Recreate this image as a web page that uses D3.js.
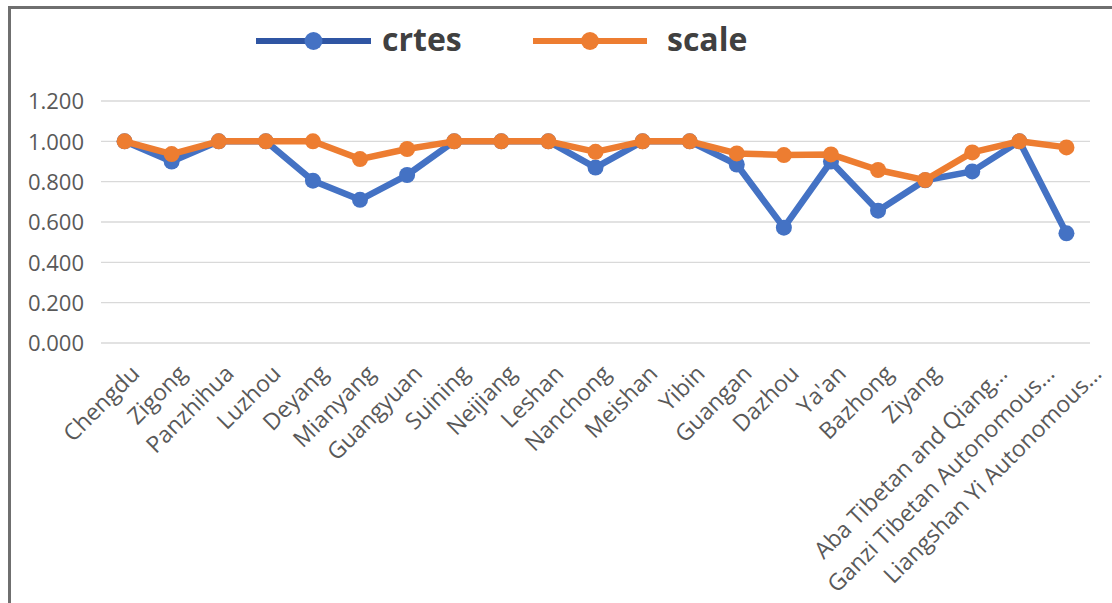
<!DOCTYPE html>
<html>
<head>
<meta charset="utf-8">
<script src="https://cdn.jsdelivr.net/npm/d3@7"></script>
<style>
  html, body { margin: 0; padding: 0; background: #fff; }
  svg { display: block; }
</style>
</head>
<body>
<svg id="chart" width="1112" height="603"></svg>
<script>
const categories = ["Chengdu","Zigong","Panzhihua","Luzhou","Deyang","Mianyang","Guangyuan","Suining","Neijiang","Leshan","Nanchong","Meishan","Yibin","Guangan","Dazhou","Ya'an","Bazhong","Ziyang","Aba Tibetan and Qiang…","Ganzi Tibetan Autonomous…","Liangshan Yi Autonomous…"];
const crtes = [1.000,0.900,1.000,1.000,0.805,0.710,0.833,1.000,1.000,1.000,0.870,1.000,1.000,0.885,0.572,0.900,0.656,0.807,0.851,1.000,0.544];
const scale = [1.000,0.937,1.000,1.000,1.000,0.912,0.962,1.000,1.000,1.000,0.948,1.000,1.000,0.940,0.932,0.935,0.858,0.808,0.945,1.000,0.970];
const yTicks = [0, 0.2, 0.4, 0.6, 0.8, 1.0, 1.2];
const seriesNames = ["crtes", "scale"];

const svg = d3.select("#chart");
const W = 1112, H = 603;
const blue = "#4472C4", blueDark = "#2F55A3", orange = "#ED7D31";

// frame
svg.append("rect").attr("x", 0).attr("y", 0).attr("width", W).attr("height", H).attr("fill", "#fff");
svg.append("line").attr("x1", 8).attr("x2", W).attr("y1", 7.5).attr("y2", 7.5)
  .attr("stroke", "#6f6f6f").attr("stroke-width", 3);
svg.append("line").attr("x1", 9.5).attr("x2", 9.5).attr("y1", 6).attr("y2", H)
  .attr("stroke", "#6f6f6f").attr("stroke-width", 3);

const x = d3.scalePoint().domain(categories).range([101, 1090]).padding(0.5);
const y = d3.scaleLinear().domain([0, 1.2]).range([343, 101]);

// gridlines
svg.append("g").selectAll("line").data(yTicks).join("line")
  .attr("x1", 101).attr("x2", 1090)
  .attr("y1", d => y(d)).attr("y2", d => y(d))
  .attr("stroke", "#d9d9d9").attr("stroke-width", 1.3);

// y axis labels
const yAxis = d3.axisLeft(y).tickValues(yTicks).tickFormat(d3.format(".3f")).tickSize(0).tickPadding(0);
const yg = svg.append("g").attr("transform", "translate(84,0)").call(yAxis);
yg.select(".domain").remove();
yg.selectAll("text").attr("font-family", "'Open Sans', sans-serif").attr("font-size", 22)
  .attr("fill", "#595959").attr("dy", "0.35em");

// x axis labels
const xAxis = d3.axisBottom(x).tickSize(0).tickPadding(0);
const xg = svg.append("g").attr("transform", "translate(0,343)").call(xAxis);
xg.select(".domain").remove();
xg.selectAll("text")
  .attr("font-family", "'Open Sans', sans-serif").attr("font-size", 23).attr("fill", "#595959")
  .attr("text-anchor", "end").attr("dy", null).attr("y", 0)
  .attr("transform", d => `translate(${d.endsWith("…") ? 36 : 16},32) rotate(-45)`);

// lines
const line = d3.line().x((d, i) => x(categories[i])).y(d => y(d));
function drawSeries(vals, color) {
  svg.append("path").datum(vals).attr("d", line).attr("fill", "none")
    .attr("stroke", color).attr("stroke-width", 6.5).attr("stroke-linejoin", "round");
  svg.append("g").selectAll("circle").data(vals).join("circle")
    .attr("cx", (d, i) => x(categories[i])).attr("cy", d => y(d)).attr("r", 8)
    .attr("fill", color);
}
drawSeries(crtes, blue);
drawSeries(scale, orange);

// legend
const legend = [
  {name: seriesNames[0], line: blueDark, mark: blue, x1: 256, x2: 371, tx: 382},
  {name: seriesNames[1], line: orange, mark: orange, x1: 533, x2: 647, tx: 667}
];
const lg = svg.append("g");
legend.forEach(l => {
  lg.append("line").attr("x1", l.x1).attr("x2", l.x2).attr("y1", 41).attr("y2", 41)
    .attr("stroke", l.line).attr("stroke-width", 6);
  lg.append("circle").attr("cx", (l.x1 + l.x2) / 2).attr("cy", 41).attr("r", 9).attr("fill", l.mark);
  lg.append("text").attr("x", l.tx).attr("y", 51).text(l.name)
    .attr("font-family", "'Open Sans', sans-serif").attr("font-weight", "bold")
    .attr("font-size", 32).attr("fill", "#404040");
});
</script>
</body>
</html>
